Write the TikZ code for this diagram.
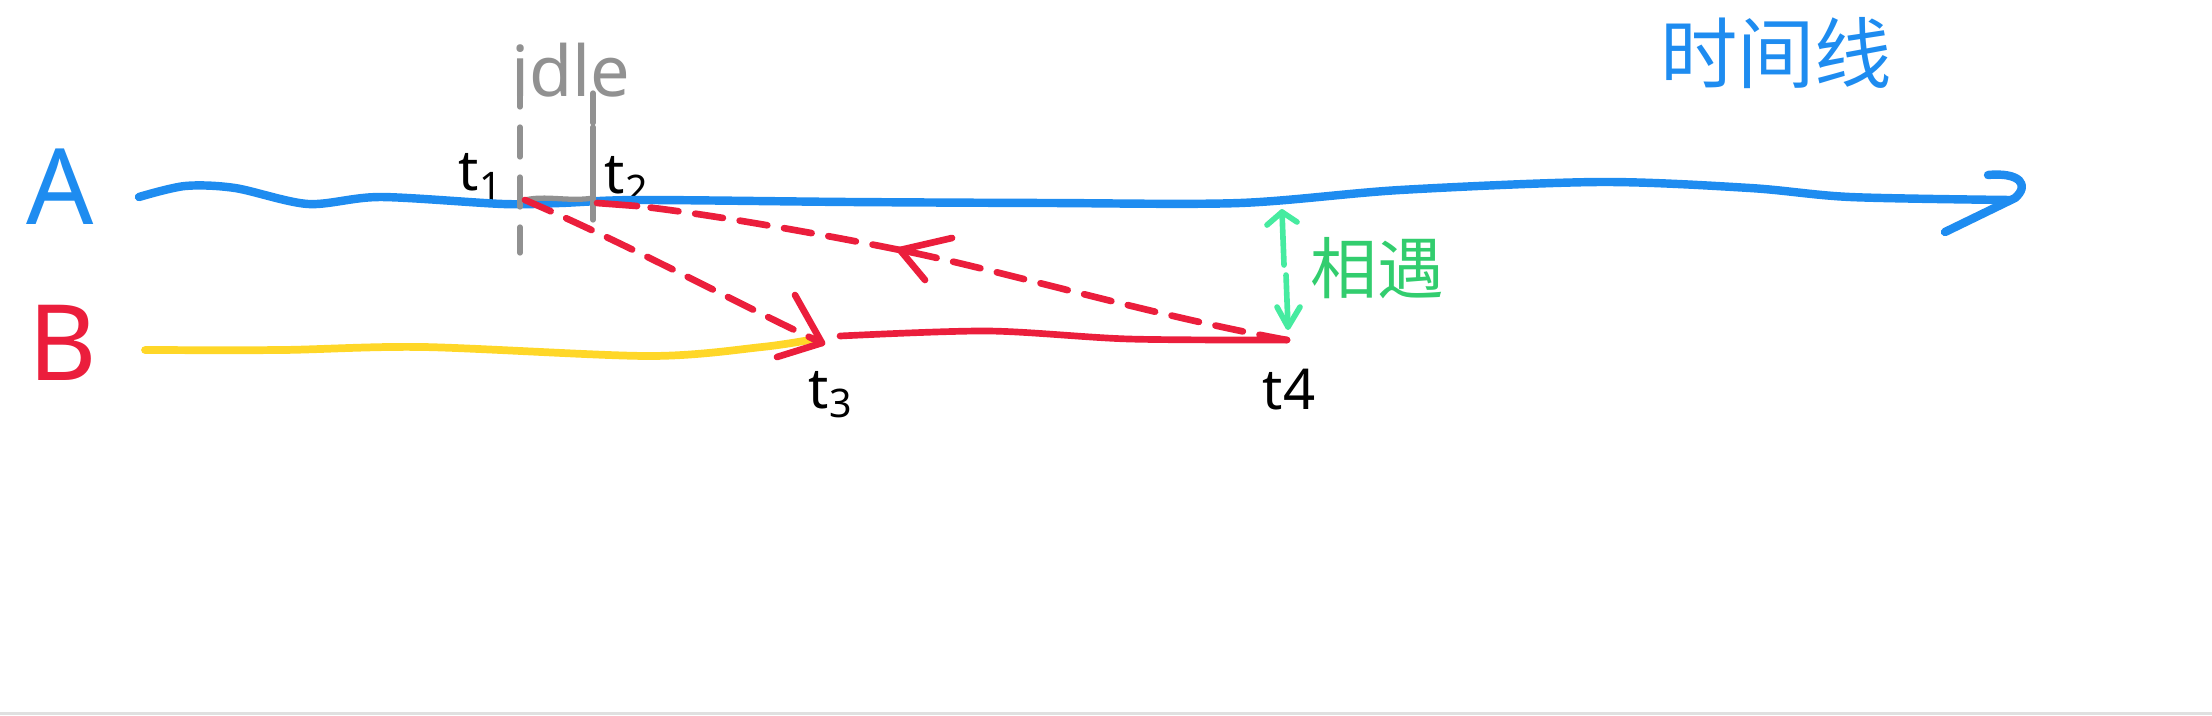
\documentclass[tikz,border=0pt]{standalone}
\usepackage{fontspec}
\setmainfont{Noto Sans}
\newfontfamily\cjk{Noto Sans CJK SC}
\usetikzlibrary{calc}
\definecolor{lineblue}{RGB}{30,140,240}
\definecolor{linered}{RGB}{235,30,60}
\definecolor{lineyellow}{RGB}{255,215,40}
\definecolor{linegray}{RGB}{145,145,145}
\definecolor{meetgreen}{RGB}{50,205,110}
\definecolor{gapgreen}{RGB}{70,235,160}

\begin{document}
\begin{tikzpicture}[
    blueline/.style={lineblue, line width=2.4pt, line cap=round, line join=round},
    redline/.style={linered, line width=1.9pt, line cap=round, line join=round},
    reddash/.style={redline, dash pattern=on 0.28cm off 0.17cm},
    grayline/.style={linegray, line width=1.5pt, line cap=round},
    graydash/.style={grayline, dash pattern=on 0.3cm off 0.2cm},
    greenline/.style={gapgreen, line width=1.6pt, line cap=round, line join=round},
    tlabel/.style={font=\fontsize{16}{18}\selectfont\bfseries},
    rowlabel/.style={font=\fontsize{30}{32}\selectfont},
  ]
  %%%%% START %%%%%
  \useasboundingbox (0,0) rectangle (22.12,7.15);
  \fill[black!12] (0,0) rectangle (22.12,0.03);

  % row labels and captions
  \node[rowlabel, lineblue] (rowA) at (0.60,5.28) {A};
  \node[rowlabel, linered] (rowB) at (0.63,3.72) {B};
  \node[lineblue, font=\fontsize{22}{24}\selectfont\cjk] (timeline) at (17.76,6.62) {时间线};
  \node[linegray, font=\fontsize{20}{22}\selectfont] (idle) at (5.71,6.45) {idle};
  \node[meetgreen, font=\fontsize{19}{21}\selectfont\cjk] (meet) at (13.77,4.47) {相遇};

  % event points
  \coordinate (t1) at (5.25,5.15);
  \coordinate (t2) at (5.97,5.12);
  \coordinate (t3) at (8.22,3.72);
  \coordinate (t4) at (12.87,3.75);
  \coordinate (back) at (9.00,4.65);
  \node[tlabel] (lt1) at (4.81,5.38) {t\textsubscript{1}};
  \node[tlabel] (lt2) at (6.27,5.35) {t\textsubscript{2}};
  \node[tlabel] (lt3) at (8.31,3.20) {t\textsubscript{3}};
  \node[tlabel] (lt4) at (12.89,3.25) {t4};

  % time line of A
  \draw[blueline] plot[smooth] coordinates {(1.39,5.18) (1.85,5.29) (2.35,5.27) (3.08,5.11)
    (3.80,5.18) (5.03,5.11) (5.60,5.12) (6.40,5.15) (8.50,5.13) (10.50,5.12) (12.40,5.12)
    (14.00,5.25) (16.00,5.33) (17.50,5.27) (18.50,5.18) (20.10,5.15)};
  \draw[blueline] (19.88,5.40) .. controls (20.20,5.43) and (20.30,5.30) .. (20.15,5.17) -- (19.45,4.83);

  % time line of B
  \draw[lineyellow, line width=2.2pt, line cap=round] plot[smooth] coordinates {(1.45,3.65)
    (2.82,3.65) (4.23,3.68) (6.49,3.59) (7.62,3.68) (8.15,3.76)};
  \draw[redline] plot[smooth] coordinates {(8.40,3.79) (9.88,3.84) (11.29,3.76) (t4)};

  % idle gap
  \draw[graydash] (5.20,6.38) -- (5.20,4.62);
  \draw[graydash] (5.93,6.22) -- (5.93,5.88);
  \draw[grayline] (5.93,5.88) -- (5.93,4.95);
  \draw[grayline] (t1) .. controls (5.45,5.20) and (5.70,5.13) .. (5.93,5.17);

  % message A -> B
  \draw[reddash] (t1) .. controls (6.30,4.70) and (7.40,4.10) .. (t3);
  \draw[redline] (7.95,4.20) -- (t3) -- (7.77,3.58);

  % message B -> A
  \draw[reddash] (t4) .. controls (11.50,4.00) and (10.00,4.45) .. (back);
  \draw[redline] (9.52,4.77) -- (back) -- (9.25,4.35);
  \draw[reddash] (back) .. controls (8.00,4.85) and (7.00,5.02) .. (6.37,5.09);
  \draw[redline] (6.37,5.09) -- (t2);

  % meeting distance
  \draw[greenline] (12.82,5.03) -- (12.84,4.50);
  \draw[greenline] (12.86,4.40) -- (12.88,3.88);
  \draw[greenline] (12.67,4.90) -- (12.82,5.03) -- (12.97,4.93);
  \draw[greenline] (12.77,4.08) -- (12.88,3.88) -- (13.00,4.08);
  %%%%% END %%%%%
\end{tikzpicture}
\end{document}
